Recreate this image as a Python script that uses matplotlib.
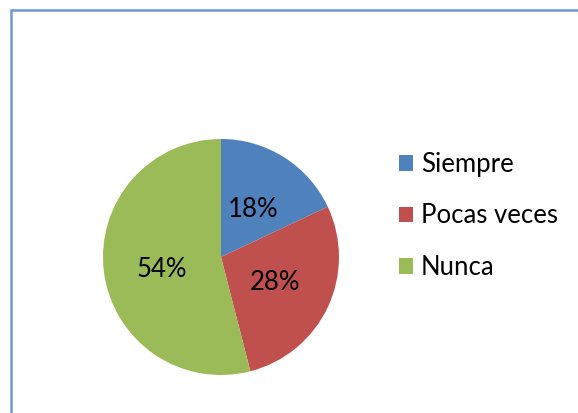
import matplotlib.pyplot as plt
from matplotlib.patches import Rectangle

categorias = ["Siempre", "Pocas veces", "Nunca"]
porcentajes = [18, 28, 54]
colores = ["#4F81BD", "#C0504D", "#9BBB59"]

W, H = 578, 413
fig = plt.figure(figsize=(W / 100, H / 100), dpi=100)
plt.rcParams['font.family'] = ['Lato', 'DejaVu Sans']

# marco del grafico
fig.patches.append(Rectangle((11 / W, -0.1), 1.2, 1 - 10 / H + 0.1, transform=fig.transFigure,
                             fill=False, edgecolor="#6E96CF", linewidth=1.8))

# pastel
ax = fig.add_axes([103 / W, 38 / H, 236 / W, 236 / H])
wedges, _ = ax.pie(porcentajes, colors=colores, startangle=90, counterclock=False,
                   radius=1, wedgeprops=dict(linewidth=0))
ax.set_xlim(-1, 1)
ax.set_ylim(-1, 1)
ax.set_aspect("auto")
ax.axis("off")

# etiquetas de porcentaje
pos_etiquetas = [(0.27, 0.40), (0.46, -0.22), (-0.50, -0.11)]
for (x, y), p in zip(pos_etiquetas, porcentajes):
    ax.text(x, y, f"{p}%", ha="center", va="center", fontsize=18.5, color="black")

leg = fig.legend(wedges, categorias, loc="upper left", bbox_to_anchor=(399 / W, 1 - 152 / H),
                 frameon=False, fontsize=18.5, handlelength=0.55, handleheight=0.55,
                 handletextpad=0.3, labelspacing=1.03, borderpad=0, borderaxespad=0)

fig.savefig("out.png", dpi=100)
